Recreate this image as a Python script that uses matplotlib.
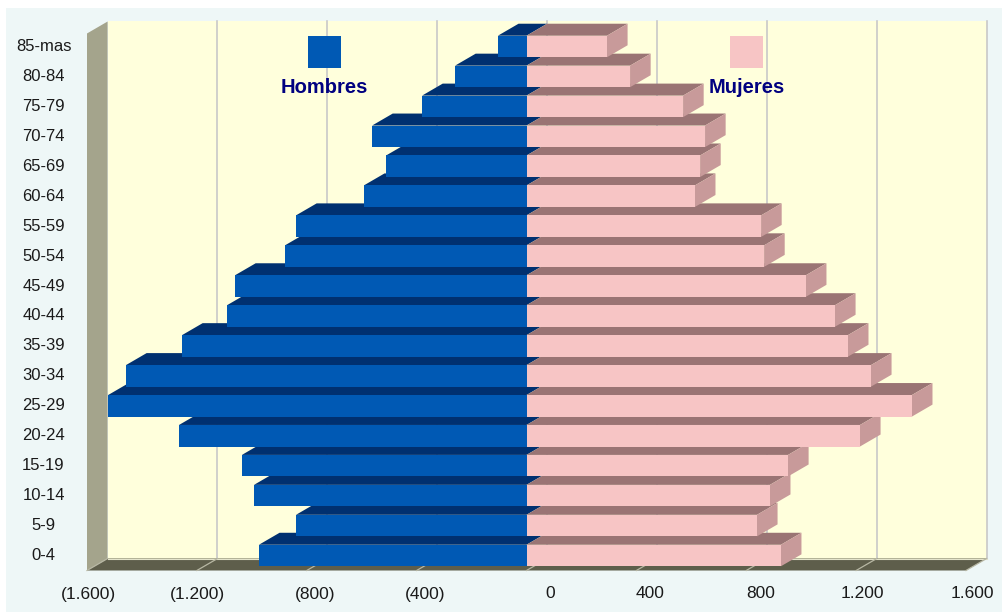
import numpy as np
import matplotlib.pyplot as plt
from matplotlib.patches import Polygon, Rectangle
from matplotlib.transforms import ScaledTranslation

plt.rcParams['font.family'] = ['Liberation Sans', 'DejaVu Sans']

# datos (de abajo hacia arriba)
grupos = ['0-4', '5-9', '10-14', '15-19', '20-24', '25-29', '30-34', '35-39', '40-44',
          '45-49', '50-54', '55-59', '60-64', '65-69', '70-74', '75-79', '80-84', '85-mas']
hombres = [974, 839, 992, 1036, 1265, 1523, 1458, 1254, 1090, 1061, 879, 839, 592, 511, 562, 380, 260, 104]
mujeres = [926, 839, 886, 952, 1214, 1403, 1254, 1170, 1123, 1017, 865, 854, 613, 632, 650, 570, 377, 293]

ticks = [-1600, -1200, -800, -400, 0, 400, 800, 1200, 1600]
tick_labels = ['(1.600)', '(1.200)', '(800)', '(400)', '0', '400', '800', '1.200', '1.600']

# colores
c_fondo = '#EEF7F7'
c_pared = '#FFFFDC'
c_lateral = '#A4A48C'
c_suelo = '#5E5E4B'
c_h_frente, c_h_arriba = '#0059B4', '#003070'
c_m_frente, c_m_arriba, c_m_lado = '#F7C5C5', '#9A7474', '#C89A9A'

W, H = 1003, 612
fig = plt.figure(figsize=(W / 100, H / 100), dpi=100)
fig.patch.set_facecolor('white')
fig.add_artist(Rectangle((6 / W, 0), 1, (H - 8) / H, transform=fig.transFigure,
                         facecolor=c_fondo, edgecolor='none', zorder=0))

ax = fig.add_axes([87 / W, (H - 570.5) / H, 879 / W, 539 / H])
ax.set_xlim(-1600, 1600)
ax.set_ylim(-0.5, len(grupos) - 0.5)
ax.axis('off')

# profundidad 3D (en unidades de datos)
DX, DY = 75, 0.40
h = 0.72
y0 = -0.5
y_top = len(grupos) - 0.5 + 0.334

# pared del fondo
ax.add_patch(Rectangle((-1600 + DX, y0 + DY), 3200, y_top - (y0 + DY),
                       facecolor=c_pared, edgecolor='none', clip_on=False, zorder=1))
for v in ticks[1:]:
    ax.plot([v + DX, v + DX], [y0 + DY, y_top], color='#C8C8C8', lw=1.2,
            clip_on=False, zorder=2)

# pared lateral y suelo
ax.add_patch(Polygon([(-1600, y0), (-1600 + DX, y0 + DY), (-1600 + DX, y_top),
                      (-1600, y_top - DY)], closed=True, facecolor=c_lateral,
                     edgecolor='none', clip_on=False, zorder=3))
ax.add_patch(Polygon([(-1600, y0), (1600, y0), (1600 + DX, y0 + DY), (-1600 + DX, y0 + DY)],
                     closed=True, facecolor=c_suelo, edgecolor='none', clip_on=False, zorder=3))
ax.plot([-1600 + DX, 1600 + DX], [y0 + DY, y0 + DY], color='#E4E4CC', lw=0.8,
        clip_on=False, zorder=3.5)
for v in ticks:
    ax.plot([v, v + DX], [y0, y0 + DY], color='#B8B8A4', lw=0.9, clip_on=False, zorder=4)

# barras
for i, (m, f) in enumerate(zip(hombres, mujeres)):
    z = 10 + i * 0.1
    b, t = i - h / 2, i + h / 2
    ax.add_patch(Polygon([(-m, t), (0, t), (DX, t + DY), (-m + DX, t + DY)], closed=True,
                         facecolor=c_h_arriba, edgecolor='none', clip_on=False, zorder=z))
    ax.add_patch(Polygon([(0, t), (f, t), (f + DX, t + DY), (DX, t + DY)], closed=True,
                         facecolor=c_m_arriba, edgecolor='none', clip_on=False, zorder=z))
    ax.add_patch(Polygon([(f, b), (f + DX, b + DY), (f + DX, t + DY), (f, t)], closed=True,
                         facecolor=c_m_lado, edgecolor='none', clip_on=False, zorder=z))
    ax.barh(i, -m, height=h, left=0, color=c_h_frente, lw=0, zorder=z + 0.01)
    ax.barh(i, f, height=h, left=0, color=c_m_frente, lw=0, zorder=z + 0.01)

# etiquetas de grupos
for i, g in enumerate(grupos):
    ax.text((43.5 - 87) / 879, i, g, transform=ax.get_yaxis_transform(),
            ha='center', va='center', fontsize=12, color='#1A1A1A')

# etiquetas del eje x
off = ScaledTranslation(28.5 / 100, -28 / 100, fig.dpi_scale_trans)
for v, lab in zip(ticks, tick_labels):
    ax.text(v, 0, lab, transform=ax.get_xaxis_transform() + off,
            ha='right', va='baseline', fontsize=12.5, color='#1A1A1A')

# leyenda
for x_sq, x_txt, color, nombre in [(308, 324.5, c_h_frente, 'Hombres'),
                                   (730, 746.5, c_m_frente, 'Mujeres')]:
    fig.add_artist(Rectangle((x_sq / W, 1 - 68 / H), 33 / W, 32 / H, transform=fig.transFigure,
                             facecolor=color, edgecolor='none', zorder=20))
    fig.text(x_txt / W, 1 - 93 / H, nombre, ha='center', va='baseline', fontsize=14.5,
             fontweight='bold', color='#000080', zorder=21)

fig.savefig('out.png', dpi=100)
